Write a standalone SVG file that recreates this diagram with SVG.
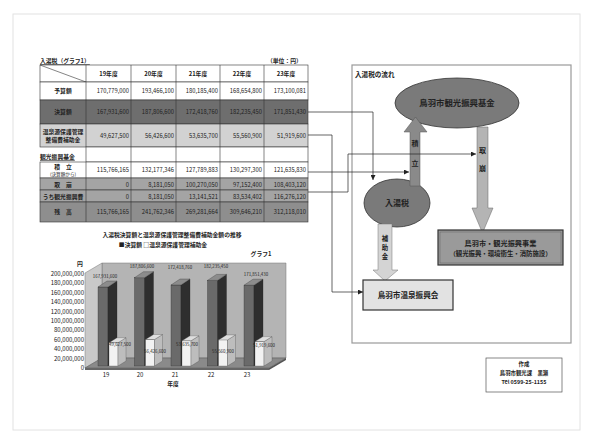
<svg xmlns="http://www.w3.org/2000/svg" width="590" height="441" viewBox="0 0 590 441">
<defs>
<style>
text{font-family:"Noto Sans CJK JP","Liberation Sans",sans-serif;fill:#222;}
.t{font-size:5.8px;font-weight:bold;}
.v{font-size:5.8px;text-anchor:end;}
.c{text-anchor:middle;}
.ax{font-size:6px;text-anchor:end;}
.bl{font-size:4.4px;text-anchor:middle;}
.cell{stroke:#333;stroke-width:0.6;}
.conn{fill:none;stroke:#222;stroke-width:0.7;}
.fl{font-size:8px;font-weight:bold;text-anchor:middle;}
.vt{font-size:7px;font-weight:bold;text-anchor:middle;}
</style>
<marker id="ah" viewBox="0 0 6 6" refX="6" refY="3" markerWidth="5" markerHeight="5" orient="auto" markerUnits="userSpaceOnUse"><path d="M0,0 L6,3 L0,6 z" fill="#222"/></marker>
</defs>
<rect width="590" height="441" fill="#fff"/>
<rect x="13" y="14" width="567" height="416" fill="none" stroke="#e2e2e2" stroke-width="1"/>

<!-- TABLE -->
<g id="table">
<text x="40" y="63" class="t" style="text-decoration:underline">入湯税（グラフ1）</text>
<text x="267" y="63" class="t">（単位：円）</text>
<rect x="40" y="65" width="268" height="17" fill="#fff" class="cell"/>
<line x1="40" y1="65" x2="86" y2="82" class="cell"/>
<rect x="40" y="82" width="268" height="18" fill="#fff" class="cell"/>
<rect x="40" y="100" width="268" height="24" fill="#6e6e6e" class="cell"/>
<rect x="40" y="124" width="268" height="23" fill="#d2d2d2" class="cell"/>
<rect x="86" y="147" width="222" height="15" fill="#fff" class="cell"/>
<rect x="40" y="162" width="268" height="16" fill="#fff" class="cell"/>
<rect x="40" y="178" width="268" height="12" fill="#a4a4a4" class="cell"/>
<rect x="40" y="190" width="268" height="12" fill="#a4a4a4" class="cell"/>
<rect x="40" y="202" width="268" height="20" fill="#8e8e8e" class="cell"/>
<g class="cell">
<line x1="86" y1="65" x2="86" y2="147"/><line x1="131" y1="65" x2="131" y2="222"/><line x1="176" y1="65" x2="176" y2="222"/><line x1="220" y1="65" x2="220" y2="222"/><line x1="264" y1="65" x2="264" y2="222"/>
<line x1="86" y1="162" x2="86" y2="222"/>
</g>
<text x="108.5" y="76" class="t c">19年度</text><text x="153.5" y="76" class="t c">20年度</text><text x="198" y="76" class="t c">21年度</text><text x="242" y="76" class="t c">22年度</text><text x="286" y="76" class="t c">23年度</text>
<text x="63" y="93" class="t c">予算額</text>
<text x="63" y="114" class="t c">決算額</text>
<text x="63" y="134" class="t c">温泉源保護管理</text>
<text x="63" y="142" class="t c">整備費補助金</text>
<text x="40" y="159" class="t" style="text-decoration:underline">観光振興基金</text>
<text x="63" y="169" class="t c">積　立</text>
<text x="63" y="176" class="c" style="font-size:4.6px">(決算額から)</text>
<text x="63" y="186.5" class="t c">取　崩</text>
<text x="63" y="198.5" class="t c">うち観光振興費</text>
<text x="63" y="214" class="t c">残　高</text>
<text x="129" y="93" class="v">170,779,000</text><text x="174" y="93" class="v">193,466,100</text><text x="218" y="93" class="v">180,185,400</text><text x="262" y="93" class="v">168,654,800</text><text x="306" y="93" class="v">173,100,081</text>
<text x="129" y="114" class="v">167,931,600</text><text x="174" y="114" class="v">187,806,600</text><text x="218" y="114" class="v">172,418,760</text><text x="262" y="114" class="v">182,235,450</text><text x="306" y="114" class="v">171,851,430</text>
<text x="129" y="137.5" class="v">49,627,500</text><text x="174" y="137.5" class="v">56,426,600</text><text x="218" y="137.5" class="v">53,635,700</text><text x="262" y="137.5" class="v">55,560,900</text><text x="306" y="137.5" class="v">51,919,600</text>
<text x="129" y="172" class="v">115,766,165</text><text x="174" y="172" class="v">132,177,346</text><text x="218" y="172" class="v">127,789,883</text><text x="262" y="172" class="v">130,297,300</text><text x="306" y="172" class="v">121,635,830</text>
<text x="129" y="186.5" class="v">0</text><text x="174" y="186.5" class="v">8,181,050</text><text x="218" y="186.5" class="v">100,270,050</text><text x="262" y="186.5" class="v">97,152,400</text><text x="306" y="186.5" class="v">108,403,120</text>
<text x="129" y="198.5" class="v">0</text><text x="174" y="198.5" class="v">8,181,050</text><text x="218" y="198.5" class="v">13,141,521</text><text x="262" y="198.5" class="v">83,534,402</text><text x="306" y="198.5" class="v">116,276,120</text>
<text x="129" y="214" class="v">115,766,165</text><text x="174" y="214" class="v">241,762,346</text><text x="218" y="214" class="v">269,281,664</text><text x="262" y="214" class="v">309,646,210</text><text x="306" y="214" class="v">312,118,010</text>
</g>

<!-- CHART -->
<g id="chart">
<text x="172" y="237" class="t c">入湯税決算額と温泉源保護管理整備費補助金額の推移</text>
<text x="163" y="247" class="t c">■決算額 □温泉源保護管理補助金</text>
<text x="261" y="256" class="t c">グラフ1</text>
<text x="80" y="266" class="t c">円</text>
<polygon points="102,263 286,263 286,358 102,358" fill="#b4b4b4" stroke="#777" stroke-width="0.5"/>
<polygon points="85,273 102,263 102,358 85,368" fill="#c9c9c9" stroke="#777" stroke-width="0.5"/>
<polygon points="85,368 102,358 286,358 269,368" fill="#8a8a8a" stroke="#555" stroke-width="0.5"/>
<rect x="85" y="368" width="184" height="2" fill="#666"/>
<polygon points="269,368 286,358 286,360 269,370" fill="#555"/>
<text x="84" y="370" class="ax">0</text>
<text x="84" y="360.6" class="ax">20,000,000</text>
<text x="84" y="351.2" class="ax">40,000,000</text>
<text x="84" y="341.8" class="ax">60,000,000</text>
<text x="84" y="332.4" class="ax">80,000,000</text>
<text x="84" y="323" class="ax">100,000,000</text>
<text x="84" y="313.6" class="ax">120,000,000</text>
<text x="84" y="304.2" class="ax">140,000,000</text>
<text x="84" y="294.8" class="ax">160,000,000</text>
<text x="84" y="285.4" class="ax">180,000,000</text>
<text x="84" y="276" class="ax">200,000,000</text>
<g stroke="#222" stroke-width="0.3">
<rect x="98" y="287" width="10" height="79" fill="#6a6a6a"/><polygon points="108,287 117,281 117,360 108,366" fill="#2e2e2e"/><polygon points="98,287 107,281 117,281 108,287" fill="#8c8c8c"/>
<rect x="134.5" y="277.7" width="10" height="88.3" fill="#6a6a6a"/><polygon points="144.5,277.7 153.5,271.7 153.5,360 144.5,366" fill="#2e2e2e"/><polygon points="134.5,277.7 143.5,271.7 153.5,271.7 144.5,277.7" fill="#8c8c8c"/>
<rect x="171" y="285" width="10" height="81" fill="#6a6a6a"/><polygon points="181,285 190,279 190,360 181,366" fill="#2e2e2e"/><polygon points="171,285 180,279 190,279 181,285" fill="#8c8c8c"/>
<rect x="207.5" y="280.4" width="10" height="85.6" fill="#6a6a6a"/><polygon points="217.5,280.4 226.5,274.4 226.5,360 217.5,366" fill="#2e2e2e"/><polygon points="207.5,280.4 216.5,274.4 226.5,274.4 217.5,280.4" fill="#8c8c8c"/>
<rect x="244" y="285.2" width="10" height="80.8" fill="#6a6a6a"/><polygon points="254,285.2 263,279.2 263,360 254,366" fill="#2e2e2e"/><polygon points="244,285.2 253,279.2 263,279.2 254,285.2" fill="#8c8c8c"/>
</g>
<g stroke="#444" stroke-width="0.3">
<rect x="109" y="342.7" width="9" height="23.3" fill="#f2f2f2"/><polygon points="118,342.7 126,337.7 126,361 118,366" fill="#bdbdbd"/><polygon points="109,342.7 117,337.7 126,337.7 118,342.7" fill="#dedede"/>
<rect x="145.5" y="339.5" width="9" height="26.5" fill="#f2f2f2"/><polygon points="154.5,339.5 162.5,334.5 162.5,361 154.5,366" fill="#bdbdbd"/><polygon points="145.5,339.5 153.5,334.5 162.5,334.5 154.5,339.5" fill="#dedede"/>
<rect x="182" y="340.8" width="9" height="25.2" fill="#f2f2f2"/><polygon points="191,340.8 199,335.8 199,361 191,366" fill="#bdbdbd"/><polygon points="182,340.8 190,335.8 199,335.8 191,340.8" fill="#dedede"/>
<rect x="218.5" y="339.9" width="9" height="26.1" fill="#f2f2f2"/><polygon points="227.5,339.9 235.5,334.9 235.5,361 227.5,366" fill="#bdbdbd"/><polygon points="218.5,339.9 226.5,334.9 235.5,334.9 227.5,339.9" fill="#dedede"/>
<rect x="255" y="341.6" width="9" height="24.4" fill="#f2f2f2"/><polygon points="264,341.6 272,336.6 272,361 264,366" fill="#bdbdbd"/><polygon points="255,341.6 263,336.6 272,336.6 264,341.6" fill="#dedede"/>
</g>
<text x="105" y="278" class="bl">167,931,600</text>
<text x="142" y="268" class="bl">187,806,600</text>
<text x="180" y="269" class="bl">172,418,760</text>
<text x="216" y="268" class="bl">182,235,450</text>
<text x="256" y="276" class="bl">171,851,430</text>
<text x="120" y="346" class="bl">49,627,500</text>
<text x="155" y="353" class="bl">56,426,600</text>
<text x="187" y="346" class="bl">53,635,700</text>
<text x="223" y="353" class="bl">55,560,900</text>
<text x="264" y="347" class="bl">51,919,600</text>
<text x="106" y="377" class="ax" style="text-anchor:middle">19</text>
<text x="140" y="377" class="ax" style="text-anchor:middle">20</text>
<text x="175" y="377" class="ax" style="text-anchor:middle">21</text>
<text x="211" y="377" class="ax" style="text-anchor:middle">22</text>
<text x="247" y="377" class="ax" style="text-anchor:middle">23</text>
<text x="173" y="386" class="t c">年度</text>
</g>

<!-- FLOW -->
<g id="flow-frame">
<rect x="352" y="65" width="219" height="278" fill="#fff" stroke="#9a9a9a" stroke-width="1.2"/>
<text x="355" y="77" class="t" style="font-size:6.6px">入湯税の流れ</text>
</g>

<g id="kikin">
<ellipse cx="457" cy="103" rx="62" ry="25" fill="#7a7a7a" stroke="#333" stroke-width="0.8"/>
<text x="457" y="106" class="fl" style="font-size:8.4px">鳥羽市観光振興基金</text>
</g>

<g id="nyutozei">
<ellipse cx="397" cy="203" rx="33" ry="24" fill="#7a7a7a" stroke="#333" stroke-width="0.8"/>
<text x="397" y="206" class="fl">入湯税</text>
</g>

<g id="arrow-tsumitate">
<polygon points="410,186 410,132 404,132 415.5,117 427,132 420,132 420,186" fill="#8a8a8a" stroke="#555" stroke-width="0.5"/>
<text x="415" y="146" class="vt">積</text>
<text x="415" y="166" class="vt">立</text>
</g>

<g id="arrow-torikuzushi">
<polygon points="477,127 488,127 488,208 493,208 482.5,233 472,208 477,208" fill="#b4b4b4" stroke="#666" stroke-width="0.5"/>
<text x="482.5" y="153" class="vt">取</text>
<text x="482.5" y="171" class="vt">崩</text>
</g>

<g id="arrow-hojokin">
<polygon points="378,224 392,224 392,270 398,270 385,281 373,270 378,270" fill="#d4d4d4" stroke="#777" stroke-width="0.5"/>
<text x="385" y="241" class="vt" style="font-size:6.4px">補</text>
<text x="385" y="250" class="vt" style="font-size:6.4px">助</text>
<text x="385" y="259" class="vt" style="font-size:6.4px">金</text>
</g>

<g id="jigyo">
<rect x="438" y="230" width="125" height="35" fill="#9a9a9a" stroke="#333" stroke-width="1.2"/>
<rect x="440" y="232" width="121" height="31" fill="none" stroke="#555" stroke-width="0.4"/>
<text x="500.5" y="246" class="fl" style="font-size:7.2px">鳥羽市・観光振興事業</text>
<text x="500.5" y="256" class="fl" style="font-size:6.4px">（観光振興・環境衛生・消防施設）</text>
</g>

<g id="onsen">
<rect x="363" y="280" width="90" height="30" fill="#e2e2e2" stroke="#333" stroke-width="1.2"/>
<text x="408" y="298" class="fl" style="font-size:7.6px">鳥羽市温泉振興会</text>
</g>

<g id="connectors">
<polyline class="conn" points="308,112 373,112 373,180" marker-end="url(#ah)"/>
<polyline class="conn" points="308,135 332,135 332,292 363,292" marker-end="url(#ah)"/>
<polyline class="conn" points="308,172 409,172" marker-end="url(#ah)"/>
<polyline class="conn" points="308,192 348,192 348,154 476,154" marker-end="url(#ah)"/>
</g>

<g id="credit">
<rect x="486" y="358" width="76" height="34" fill="#fff" stroke="#555" stroke-width="0.7"/>
<text x="524" y="366" class="t c" style="font-size:5.4px">作成</text>
<text x="524" y="375" class="t c" style="font-size:5.4px">鳥羽市観光課　黒瀬</text>
<text x="524" y="384" class="t c" style="font-size:5.4px">Tel  0599-25-1155</text>
</g>
</svg>
